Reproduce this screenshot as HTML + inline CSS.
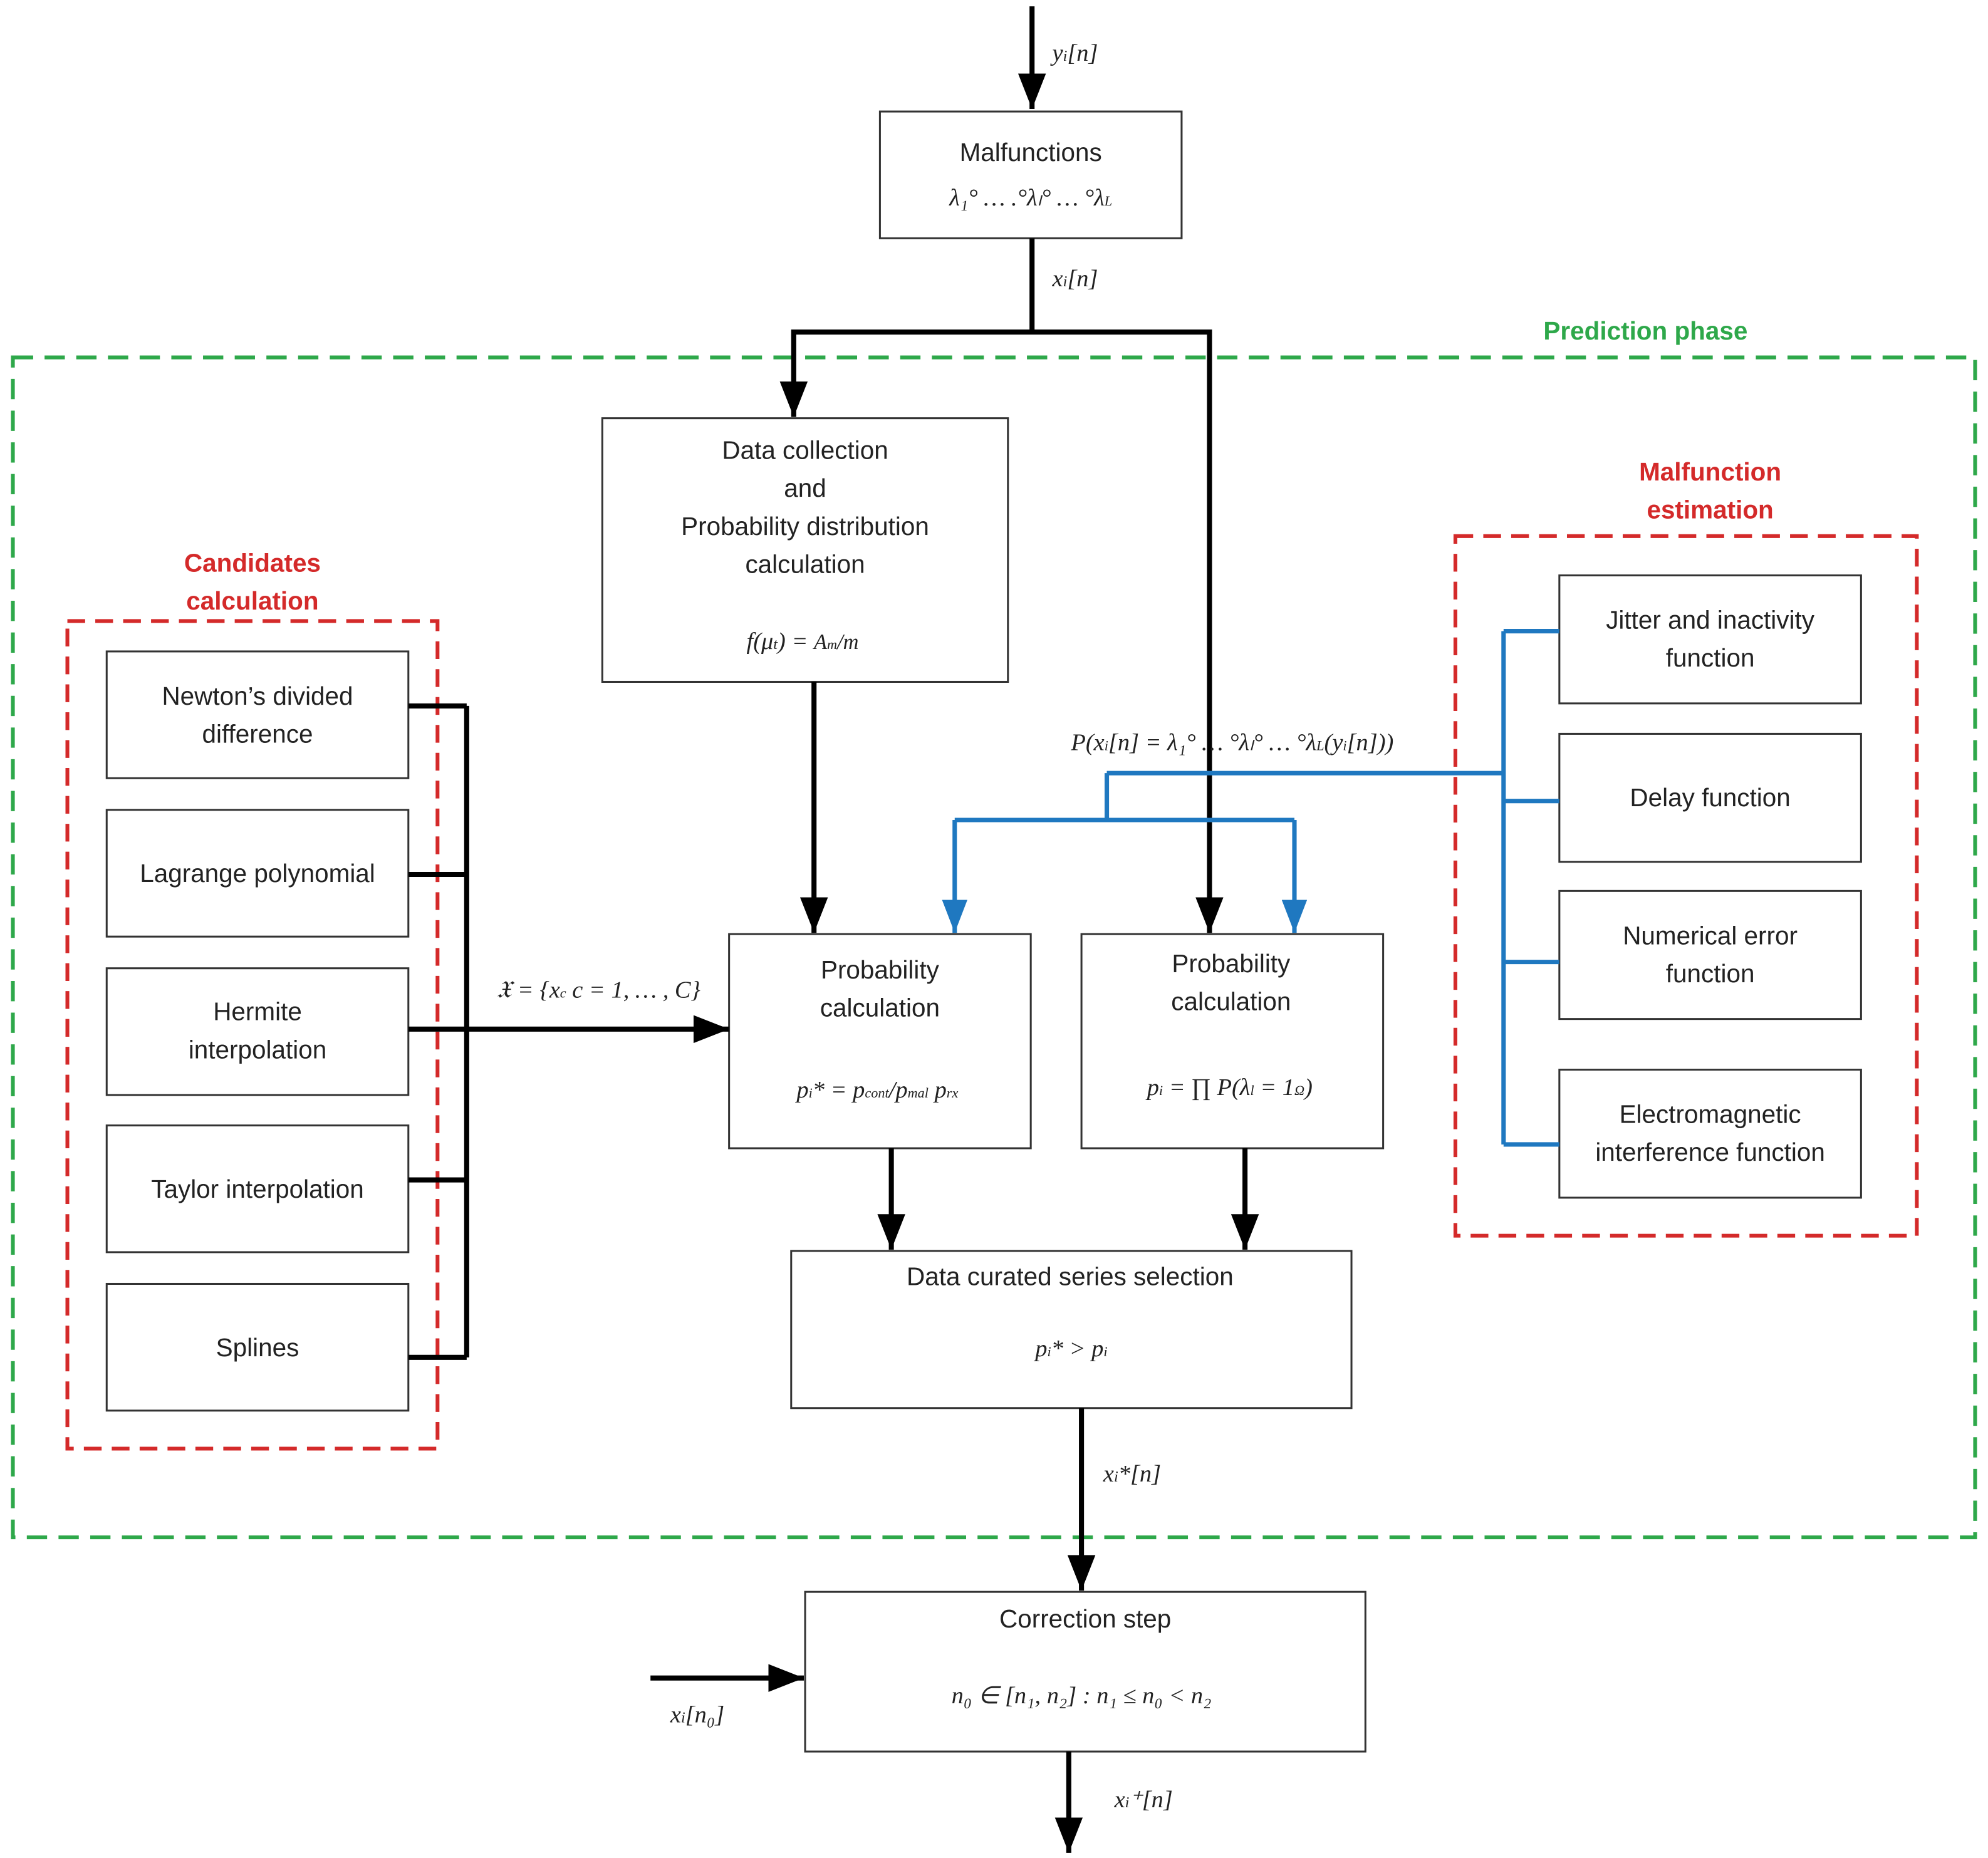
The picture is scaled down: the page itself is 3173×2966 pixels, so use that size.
<!DOCTYPE html>
<html><head><meta charset="utf-8"><style>
html,body{margin:0;padding:0;background:#fff}
svg{display:block}
.t{font-family:"Liberation Sans",sans-serif;font-size:20px;fill:#222;text-anchor:middle}
.m{font-family:"Liberation Serif",serif;font-style:italic;font-size:19px;fill:#222;text-anchor:middle}
.g{font-family:"Liberation Sans",sans-serif;font-size:20px;font-weight:bold;fill:#2ea84a;text-anchor:middle}
.r{font-family:"Liberation Sans",sans-serif;font-size:20px;font-weight:bold;fill:#d42a2a;text-anchor:middle}
</style></head><body>
<svg width="3173" height="2966" viewBox="0 0 1568 1466" xmlns="http://www.w3.org/2000/svg">
<defs>
<marker id="ak" markerWidth="28" markerHeight="22" refX="28" refY="11" orient="auto" markerUnits="userSpaceOnUse" viewBox="0 0 28 22"><path d="M0,0 L28,11 L0,22z" fill="#000"/></marker>
<marker id="ab" markerWidth="26" markerHeight="20" refX="26" refY="10" orient="auto" markerUnits="userSpaceOnUse" viewBox="0 0 26 20"><path d="M0,0 L26,10 L0,20z" fill="#1f78c0"/></marker>
</defs>
<g fill="none">
<rect x="10" y="282" width="1548" height="931" stroke="#2ea84a" stroke-width="3" stroke-dasharray="16,9"/>
<rect x="53" y="490" width="292" height="653" stroke="#d42a2a" stroke-width="3" stroke-dasharray="14,8"/>
<rect x="1148" y="423" width="364" height="552" stroke="#d42a2a" stroke-width="3" stroke-dasharray="14,8"/>
<g stroke="#333" stroke-width="1.5">
<rect x="694" y="88" width="238" height="100"/>
<rect x="475" y="330" width="320" height="208"/>
<rect x="84" y="514" width="238" height="100"/>
<rect x="84" y="639" width="238" height="100"/>
<rect x="84" y="764" width="238" height="100"/>
<rect x="84" y="888" width="238" height="100"/>
<rect x="84" y="1013" width="238" height="100"/>
<rect x="575" y="737" width="238" height="169"/>
<rect x="853" y="737" width="238" height="169"/>
<rect x="624" y="987" width="442" height="124"/>
<rect x="635" y="1256" width="442" height="126"/>
<rect x="1230" y="454" width="238" height="101"/>
<rect x="1230" y="579" width="238" height="101"/>
<rect x="1230" y="703" width="238" height="101"/>
<rect x="1230" y="844" width="238" height="101"/>
</g>
<g stroke="#000" stroke-width="4">
<path d="M814,5 V86" marker-end="url(#ak)"/>
<path d="M814,188 V260"/>
<path d="M626,262 H954"/>
<path d="M626,260 V329" marker-end="url(#ak)"/>
<path d="M954,260 V736" marker-end="url(#ak)"/>
<path d="M642,538 V736" marker-end="url(#ak)"/>
<path d="M368,557 V1071"/>
<path d="M322,557 H368 M322,690 H368 M322,931 H368 M322,1071 H368"/>
<path d="M322,812 H575" marker-end="url(#ak)"/>
<path d="M703,906 V986" marker-end="url(#ak)"/>
<path d="M982,906 V986" marker-end="url(#ak)"/>
<path d="M853,1111 V1255" marker-end="url(#ak)"/>
<path d="M513,1324 H634" marker-end="url(#ak)"/>
<path d="M843,1382 V1462" marker-end="url(#ak)"/>
</g>
<g stroke="#1f78c0" stroke-width="3.5">
<path d="M1186,498 V903"/>
<path d="M1186,498 H1230 M1186,632 H1230 M1186,759 H1230 M1186,903 H1230"/>
<path d="M873,610 H1186 M873,610 V647 M753,647 H1021"/>
<path d="M753,647 V736" marker-end="url(#ab)"/>
<path d="M1021,647 V736" marker-end="url(#ab)"/>
</g>
</g>
<text class="m" x="848" y="48">y<tspan font-size="12">i</tspan>[n]</text>
<text class="t" x="813" y="127">Malfunctions</text>
<text class="m" x="813" y="162" font-size="17">λ₁° … .°λₗ° … °λ<tspan font-size="11">L</tspan></text>
<text class="m" x="848" y="226">x<tspan font-size="12">i</tspan>[n]</text>
<text class="g" x="1298" y="268">Prediction phase</text>
<text class="t" x="635" y="362">Data collection</text>
<text class="t" x="635" y="392">and</text>
<text class="t" x="635" y="422">Probability distribution</text>
<text class="t" x="635" y="452">calculation</text>
<text class="m" x="633" y="512">f(μ<tspan font-size="12">t</tspan>) = <tspan font-size="17">A<tspan font-size="11">m</tspan>/m</tspan></text>
<text class="r" x="199" y="451">Candidates</text>
<text class="r" x="199" y="481">calculation</text>
<text class="t" x="203" y="556">Newton’s divided</text>
<text class="t" x="203" y="586">difference</text>
<text class="t" x="203" y="696">Lagrange polynomial</text>
<text class="t" x="203" y="805">Hermite</text>
<text class="t" x="203" y="835">interpolation</text>
<text class="t" x="203" y="945">Taylor interpolation</text>
<text class="t" x="203" y="1070">Splines</text>
<text class="m" x="472" y="787" font-size="17">𝔛 = {x<tspan font-size="11">c</tspan>  c = 1, … , C}</text>
<text class="m" x="972" y="592" font-size="17">P(x<tspan font-size="11">i</tspan>[n] = λ₁° … °λₗ° … °λ<tspan font-size="11">L</tspan>(y<tspan font-size="11">i</tspan>[n]))</text>
<text class="t" x="694" y="772">Probability</text>
<text class="t" x="694" y="802">calculation</text>
<text class="m" x="692" y="866" font-size="17">p<tspan font-size="11">i</tspan>* = p<tspan font-size="11">cont</tspan>/p<tspan font-size="11">mal</tspan> p<tspan font-size="11">rx</tspan></text>
<text class="t" x="971" y="767">Probability</text>
<text class="t" x="971" y="797">calculation</text>
<text class="m" x="970" y="864" font-size="17">p<tspan font-size="11">i</tspan> = ∏ P(λ<tspan font-size="11">l</tspan> = 1<tspan font-size="11">Ω</tspan>)</text>
<text class="t" x="844" y="1014">Data curated series selection</text>
<text class="m" x="845" y="1070" font-size="18">p<tspan font-size="11">i</tspan>* &gt; p<tspan font-size="11">i</tspan></text>
<text class="m" x="893" y="1169">x<tspan font-size="12">i</tspan>*[n]</text>
<text class="t" x="856" y="1284">Correction step</text>
<text class="m" x="853" y="1344" font-size="17">n₀ ∈ [n₁, n₂] :  n₁ ≤ n₀ &lt; n₂</text>
<text class="m" x="550" y="1359">x<tspan font-size="12">i</tspan>[n₀]</text>
<text class="m" x="902" y="1426">x<tspan font-size="12">i</tspan>⁺[n]</text>
<text class="r" x="1349" y="379">Malfunction</text>
<text class="r" x="1349" y="409">estimation</text>
<text class="t" x="1349" y="496">Jitter and inactivity</text>
<text class="t" x="1349" y="526">function</text>
<text class="t" x="1349" y="636">Delay function</text>
<text class="t" x="1349" y="745">Numerical error</text>
<text class="t" x="1349" y="775">function</text>
<text class="t" x="1349" y="886">Electromagnetic</text>
<text class="t" x="1349" y="916">interference function</text>
</svg>
</body></html>
